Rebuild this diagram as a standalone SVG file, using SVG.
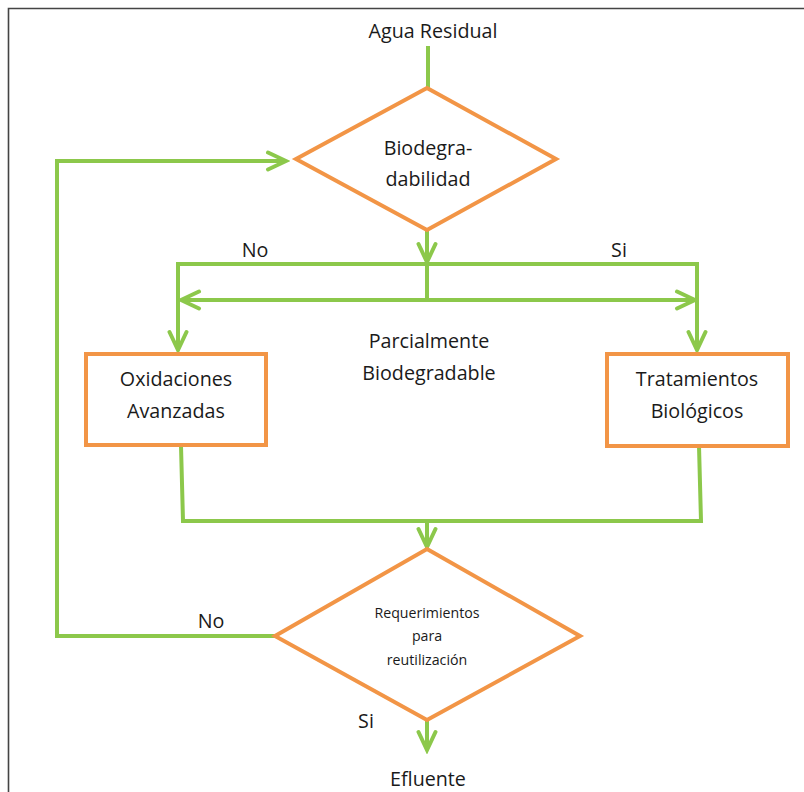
<svg xmlns="http://www.w3.org/2000/svg" width="804" height="792" viewBox="0 0 804 792">
  <style>
    .frame { fill: none; stroke: #444444; stroke-width: 1.6; }
    .shape { fill: #ffffff; stroke: #F29546; stroke-width: 4; stroke-linejoin: miter; }
    .flow { fill: none; stroke: #8CC84B; stroke-width: 4; stroke-linejoin: miter; }
    .lbl { font-family: "Open Sans", "Noto Sans", sans-serif; font-size: 19.7px; fill: #1a1a1a; text-anchor: middle; }
    .small { font-size: 14.2px; }
  </style>
  <defs>
    <marker id="arrow" viewBox="-22 -12 26 24" markerWidth="26" markerHeight="24" refX="0" refY="0" orient="auto-start-reverse" markerUnits="userSpaceOnUse">
      <path d="M-18,-8.5 L0,0 L-18,8.5" fill="none" stroke="#8CC84B" stroke-width="4" stroke-linecap="round" stroke-linejoin="miter"/>
    </marker>
  </defs>

  <rect x="0" y="0" width="804" height="792" fill="#ffffff"/>
  <path class="frame" d="M8.5,792 V8.5 H804"/>

  <!-- connectors -->
  <g id="connectors">
    <line class="flow" x1="428" y1="46" x2="428" y2="88"/>
    <line class="flow" x1="427" y1="230" x2="427" y2="262" marker-end="url(#arrow)"/>
    <polyline class="flow" points="178,350 178,264 697,264 697,350" marker-start="url(#arrow)" marker-end="url(#arrow)"/>
    <line class="flow" x1="427" y1="264" x2="427" y2="300"/>
    <line class="flow" x1="181" y1="300" x2="695" y2="300" marker-start="url(#arrow)" marker-end="url(#arrow)"/>
    <polyline class="flow" points="181,446 183,521 701,521 699,446"/>
    <line class="flow" x1="427" y1="521" x2="427" y2="547" marker-end="url(#arrow)"/>
    <polyline class="flow" points="275,636 57,636 57,161 286,161" marker-end="url(#arrow)"/>
    <line class="flow" x1="427" y1="720" x2="427" y2="750" marker-end="url(#arrow)"/>
  </g>

  <!-- free labels -->
  <g id="labels">
    <text class="lbl" x="433" y="38">Agua Residual</text>
    <text class="lbl" x="255" y="257">No</text>
    <text class="lbl" x="619" y="257">Si</text>
    <text class="lbl" x="429" y="348">Parcialmente</text>
    <text class="lbl" x="429" y="380">Biodegradable</text>
    <text class="lbl" x="211" y="628">No</text>
    <text class="lbl" x="366" y="728">Si</text>
    <text class="lbl" x="428" y="786">Efluente</text>
  </g>

  <g id="biodegradabilidad">
    <polygon class="shape" points="427,88 556,159 427,230 296,159"/>
    <text class="lbl" x="428" y="155">Biodegra-</text>
    <text class="lbl" x="428" y="186">dabilidad</text>
  </g>

  <g id="oxidaciones">
    <rect class="shape" x="86" y="354" width="180" height="91"/>
    <text class="lbl" x="176" y="386">Oxidaciones</text>
    <text class="lbl" x="176" y="418">Avanzadas</text>
  </g>

  <g id="tratamientos">
    <rect class="shape" x="607" y="354" width="181" height="92"/>
    <text class="lbl" x="697" y="386">Tratamientos</text>
    <text class="lbl" x="697" y="418">Biológicos</text>
  </g>

  <g id="requerimientos">
    <polygon class="shape" points="427,549 580,636 427,720 275,636"/>
    <text class="lbl small" x="427" y="618">Requerimientos</text>
    <text class="lbl small" x="427" y="641">para</text>
    <text class="lbl small" x="427" y="665">reutilización</text>
  </g>
</svg>
